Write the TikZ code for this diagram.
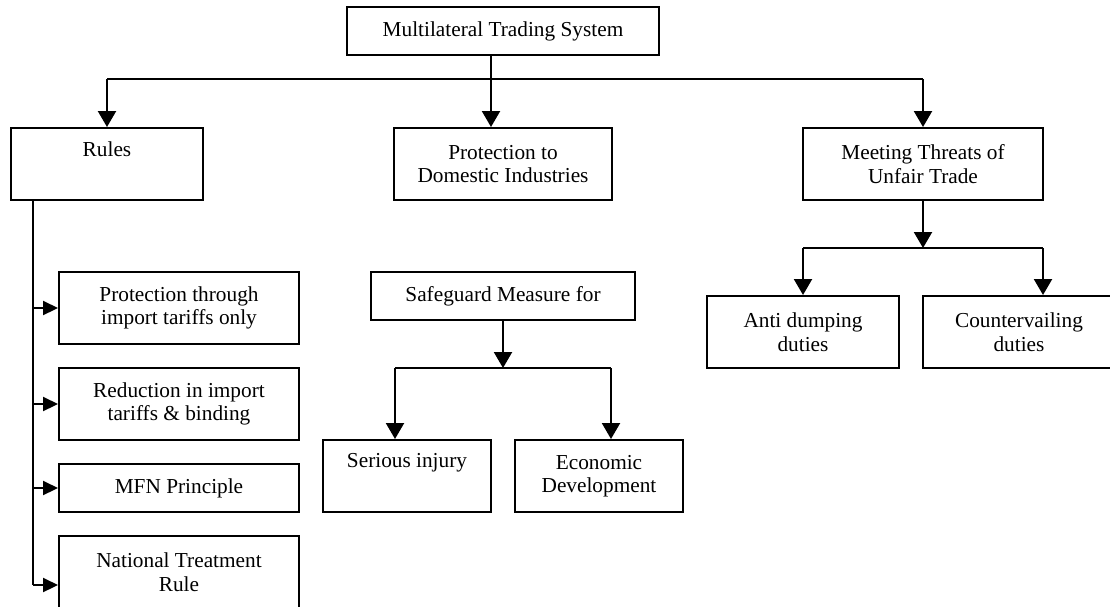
\documentclass[tikz,border=0pt]{standalone}
\usepackage{fontspec}
\setmainfont{Liberation Serif}
\usetikzlibrary{arrows.meta}
\begin{document}
\begin{tikzpicture}[x=1pt,y=-1pt,
  box/.style={draw=black, line width=2pt, fill=white, inner sep=0pt, align=center,
    font=\fontsize{21.3}{23.5}\selectfont},
  bigbox/.style={box, minimum height=72pt},
  smallbox/.style={box, minimum height=48pt},
  conn/.style={draw=black, line width=2.2pt},
  downarr/.style={conn, -{Triangle[length=16pt,width=18pt]}},
  sidearr/.style={conn, -{Triangle[length=15pt,width=14pt]}}
]
\useasboundingbox (0,0) rectangle (1110,606);
\fill[white] (0,0) rectangle (1110,606);

% nodes
\node[smallbox, minimum width=312pt] (top) at (503,31) {Multilateral Trading System};
\node[bigbox, minimum width=192pt] (rules) at (107,164) {Rules\\\strut};
\node[bigbox, minimum width=218pt] (prot) at (503,164) {Protection to\\Domestic Industries};
\node[bigbox, minimum width=240pt] (meet) at (923,164) {Meeting Threats of\\Unfair Trade};

\node[bigbox, minimum width=240pt] (r1) at (179,308) {Protection through\\import tariffs only};
\node[bigbox, minimum width=240pt] (r2) at (179,404) {Reduction in import\\tariffs \& binding};
\node[smallbox, minimum width=240pt] (r3) at (179,488) {MFN Principle};
\node[bigbox, minimum width=240pt] (r4) at (179,572) {National Treatment\\Rule};

\node[smallbox, minimum width=264pt] (safe) at (503,296) {Safeguard Measure for};
\node[bigbox, minimum width=168pt] (ser) at (407,476) {Serious injury\\\strut};
\node[bigbox, minimum width=168pt] (eco) at (599,476) {Economic\\Development};

\node[bigbox, minimum width=192pt] (anti) at (803,332) {Anti dumping\\duties};
\node[bigbox, minimum width=192pt] (coun) at (1019,332) {Countervailing\\duties};

% helper coordinates
\coordinate (tl) at (107,79);
\coordinate (tr) at (923,79);
\coordinate (tm) at (491,79);
\coordinate (rl) at (33,585);
\coordinate (sj) at (503,368);
\coordinate (sl) at (395,368);
\coordinate (sr) at (611,368);
\coordinate (mj) at (923,248);
\coordinate (ml) at (803,248);
\coordinate (mr) at (1043,248);

% top level
\draw[conn] (tl) -- (tr);
\draw[downarr] (top.south -| tm) -- (prot.north -| tm);
\draw[downarr] (tl) -- (rules.north -| tl);
\draw[downarr] (tr) -- (meet.north -| tr);

% rules branch
\draw[conn] (rules.south -| rl) -- (rl);
\draw[sidearr] (r1.west -| rl) -- (r1.west);
\draw[sidearr] (r2.west -| rl) -- (r2.west);
\draw[sidearr] (r3.west -| rl) -- (r3.west);
\draw[sidearr] (rl) -- (r4.west |- rl);

% safeguard branch
\draw[downarr] (safe.south) -- (sj);
\draw[conn] (sl) -- (sr);
\draw[downarr] (sl) -- (ser.north -| sl);
\draw[downarr] (sr) -- (eco.north -| sr);

% unfair trade branch
\draw[downarr] (meet.south) -- (mj);
\draw[conn] (ml) -- (mr);
\draw[downarr] (ml) -- (anti.north -| ml);
\draw[downarr] (mr) -- (coun.north -| mr);
\end{tikzpicture}
\end{document}
